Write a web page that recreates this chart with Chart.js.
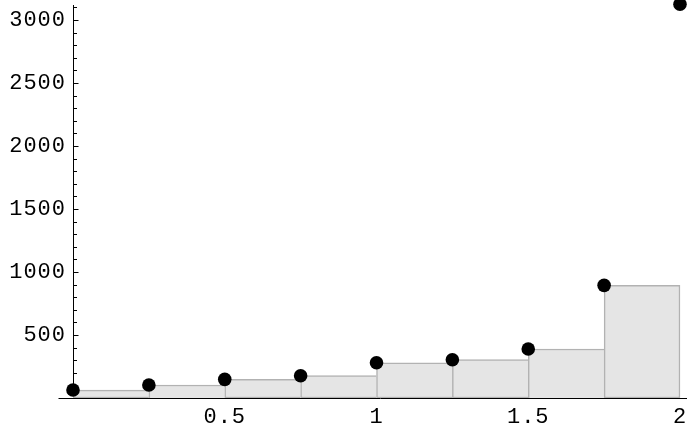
<!DOCTYPE html>
<html>
<head>
<meta charset="utf-8">
<script src="https://cdn.jsdelivr.net/npm/chart.js@4"></script>
<style>
html,body{margin:0;padding:0;background:#fff;}
canvas{display:block;}
</style>
</head>
<body>
<canvas id="c" width="687" height="427"></canvas>
<script>
// Sample points (left endpoints of each subinterval plus the final endpoint)
const xPoints = [0, 0.25, 0.5, 0.75, 1, 1.25, 1.5, 1.75, 2];
const yPoints = [63, 103, 148, 177, 280, 304, 389, 894, 3125];
// Riemann rectangles: left edge and height (left-endpoint rule)
const barLeft = [0, 0.25, 0.5, 0.75, 1, 1.25, 1.5, 1.75];
const barHeight = [63, 103, 148, 177, 280, 304, 389, 894];
const barWidth = 0.25;
// Axis ticks
const xTickValues = [0.5, 1, 1.5, 2];
const xTickLabels = ['0.5', '1', '1.5', '2'];
const yTickValues = [500, 1000, 1500, 2000, 2500, 3000];
const yTickLabels = ['500', '1000', '1500', '2000', '2500', '3000'];
const yMinorStep = 100;
const yMinorMax = 3100;

const FONT = "'Liberation Mono', 'DejaVu Sans Mono', monospace";

function noPad(s) {
  s.paddingTop = 0; s.paddingBottom = 0; s.paddingLeft = 0; s.paddingRight = 0;
}

const tickPlugin = {
  id: 'ticks',
  beforeDraw(chart) {
    chart.ctx.letterSpacing = '1px';
  },
  beforeDatasetsDraw(chart) {
    const ctx = chart.ctx;
    const xs = chart.scales.x, ys = chart.scales.y;
    const ax = Math.round(xs.getPixelForValue(0)) + 0.5;
    const by = Math.round(ys.getPixelForValue(0)) + 0.5;
    ctx.save();
    ctx.strokeStyle = '#000';
    ctx.lineWidth = 1;
    ctx.beginPath();
    // x axis extends slightly to the left of the y axis
    ctx.moveTo(ax - 15, by);
    ctx.lineTo(ax, by);
    for (let v = yMinorStep; v <= yMinorMax; v += yMinorStep) {
      const py = Math.round(ys.getPixelForValue(v)) + 0.5;
      const len = (v % 500 === 0) ? 5 : 3.5;
      ctx.moveTo(ax, py);
      ctx.lineTo(ax + len, py);
    }
    ctx.stroke();
    ctx.restore();
  }
};

const nBars = barLeft.length;
new Chart(document.getElementById('c'), {
  type: 'bar',
  data: {
    datasets: [
      {
        type: 'line',
        showLine: false,
        data: xPoints.map((x, i) => ({x: x, y: yPoints[i]})),
        pointRadius: 6.8,
        pointBackgroundColor: '#000',
        pointBorderWidth: 0,
        clip: false,
        order: 0
      },
      {
        type: 'bar',
        data: barLeft.map((x, i) => ({x: x + barWidth / 2, y: barHeight[i]})),
        backgroundColor: '#e5e5e5',
        borderColor: '#b2b2b2',
        borderSkipped: false,
        borderWidth: (c) => ({
          top: 1.5,
          left: 1.5,
          right: c.dataIndex === nBars - 1 ? 1.5 : 0,
          bottom: (c.dataIndex === 1 || c.dataIndex === 6) ? 0 : 1.5
        }),
        barPercentage: 1,
        categoryPercentage: 1,
        order: 1
      }
    ]
  },
  options: {
    responsive: false,
    animation: false,
    events: [],
    layout: { autoPadding: false, padding: { left: 0, top: 5, right: 0, bottom: 0 } },
    plugins: { legend: { display: false }, tooltip: { enabled: false } },
    scales: {
      x: {
        type: 'linear',
        position: 'bottom',
        offset: false,
        min: 0,
        max: 2.0231,
        grid: { display: true, drawOnChartArea: false, drawTicks: false, offset: false },
        border: { display: true, color: '#000', width: 1 },
        afterBuildTicks(s) { s.ticks = xTickValues.map(v => ({ value: v })); },
        afterFit(s) { s.height = 29; noPad(s); },
        ticks: {
          padding: 6,
          color: '#000',
          font: { family: FONT, size: 22 },
          maxRotation: 0,
          autoSkip: false,
          callback: (v) => { const i = xTickValues.indexOf(v); return i >= 0 ? xTickLabels[i] : ''; }
        }
      },
      y: {
        type: 'linear',
        position: 'left',
        min: 0,
        max: 3119,
        grid: { display: true, drawOnChartArea: false, drawTicks: false },
        border: { display: true, color: '#000', width: 1 },
        afterBuildTicks(s) { s.ticks = yTickValues.map(v => ({ value: v })); },
        afterFit(s) { s.width = 73; noPad(s); },
        ticks: {
          padding: 7,
          color: '#000',
          font: { family: FONT, size: 22 },
          autoSkip: false,
          callback: (v) => { const i = yTickValues.indexOf(v); return i >= 0 ? yTickLabels[i] : ''; }
        }
      }
    }
  },
  plugins: [tickPlugin]
});
</script>
</body>
</html>
